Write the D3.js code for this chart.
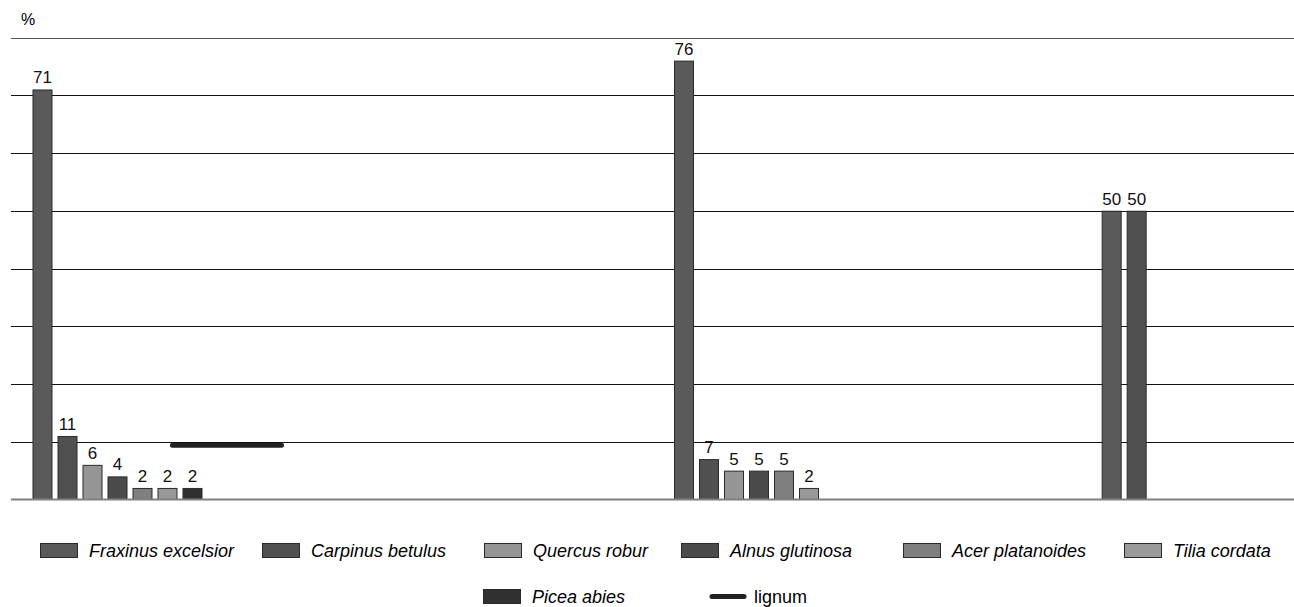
<!DOCTYPE html>
<html>
<head>
<meta charset="utf-8">
<script src="https://cdn.jsdelivr.net/npm/d3@7"></script>
<style>
  html, body { margin: 0; padding: 0; background: #fff; }
  svg { display: block; font-family: Arial, "Liberation Sans", sans-serif; }
</style>
</head>
<body>
<svg id="chart" width="1294" height="607"></svg>
<script>
// ----- data -----
const categories = ["1", "2", "3", "4", "5", "6"];
const species = ["Fraxinus excelsior", "Carpinus betulus", "Quercus robur", "Alnus glutinosa",
                 "Acer platanoides", "Tilia cordata", "Picea abies"];
const fraxinus  = [71, null, null, 76, null, 50];
const carpinus  = [11, null, null, 7,  null, 50];
const quercus   = [6,  null, null, 5,  null, null];
const alnus     = [4,  null, null, 5,  null, null];
const acer      = [2,  null, null, 5,  null, null];
const tilia     = [2,  null, null, 2,  null, null];
const picea     = [2,  null, null, null, null, null];
const lignum    = [9.4, null, null, null, null, null];
const yTicks    = [0, 10, 20, 30, 40, 50, 60, 70, 80];

const seriesValues = [fraxinus, carpinus, quercus, alnus, acer, tilia, picea];
const colors = ["#5a5a5a", "#505050", "#959595", "#4b4b4b", "#7f7f7f", "#9a9a9a", "#303030"];

// ----- layout -----
const svg = d3.select("#chart");
const plotLeft = 11, plotRight = 1294, plotTop = 37.5, plotBottom = 499.5;

const x = d3.scaleBand().domain(categories).range([plotLeft, plotRight]).padding(0);
const xInner = d3.scaleBand().domain(species).range([21.5, 191.5]).paddingInner(0.2).paddingOuter(0);
const y = d3.scaleLinear().domain([0, 80]).range([plotBottom, plotTop]);

// gridlines
svg.append("g").selectAll("line")
    .data(yTicks.filter(d => d > 0))
    .join("line")
    .attr("x1", plotLeft).attr("x2", plotRight)
    .attr("y1", d => Math.round(y(d)) + 0.5).attr("y2", d => Math.round(y(d)) + 0.5)
    .attr("stroke", d => d === 80 ? "#555" : "#111")
    .attr("stroke-width", 1);

svg.append("text")
    .attr("x", 21).attr("y", 25)
    .attr("font-size", 16)
    .text("%");

// bars
const barData = [];
seriesValues.forEach((vals, si) => {
  vals.forEach((v, ci) => {
    if (v != null) barData.push({ s: species[si], c: categories[ci], v, color: colors[si] });
  });
});

const gBars = svg.append("g");
gBars.selectAll("rect")
    .data(barData)
    .join("rect")
    .attr("x", d => x(d.c) + xInner(d.s) + 0.5)
    .attr("y", d => y(d.v) + 0.5)
    .attr("width", xInner.bandwidth() - 1)
    .attr("height", d => y(0) - y(d.v) - 0.5)
    .attr("fill", d => d.color)
    .attr("stroke", "#2a2a2a")
    .attr("stroke-width", 1);

gBars.selectAll("text")
    .data(barData)
    .join("text")
    .attr("x", d => x(d.c) + xInner(d.s) + xInner.bandwidth() / 2)
    .attr("y", d => y(d.v) - 6)
    .attr("text-anchor", "middle")
    .attr("font-size", 17)
    .attr("fill", "#111")
    .text(d => d.v);

// baseline
svg.append("line")
    .attr("x1", plotLeft).attr("x2", plotRight)
    .attr("y1", y(0)).attr("y2", y(0))
    .attr("stroke", "#808080")
    .attr("stroke-width", 2);

// lignum segment (spans the boundary between the first two categories)
lignum.forEach((v, i) => {
  if (v == null) return;
  svg.append("line")
      .attr("x1", x(categories[i]) + x.bandwidth() * 0.755)
      .attr("x2", x(categories[i + 1]) + x.bandwidth() * 0.265)
      .attr("y1", y(v)).attr("y2", y(v))
      .attr("stroke", "#222")
      .attr("stroke-width", 5)
      .attr("stroke-linecap", "round");
});

// legend
const legendPos = [[40, 543], [262, 543], [484, 543], [681, 543], [903, 543], [1124, 543], [483, 589]];
const gLegend = svg.append("g");
species.forEach((s, i) => {
  const [lx, ly] = legendPos[i];
  gLegend.append("rect")
      .attr("x", lx + 0.5).attr("y", ly + 0.5)
      .attr("width", 37).attr("height", 14)
      .attr("fill", colors[i])
      .attr("stroke", "#2a2a2a");
  gLegend.append("text")
      .attr("x", lx + 49).attr("y", ly + 14)
      .attr("font-size", 18)
      .attr("font-style", "italic")
      .text(s);
});
gLegend.append("line")
    .attr("x1", 712).attr("x2", 744)
    .attr("y1", 596.5).attr("y2", 596.5)
    .attr("stroke", "#222")
    .attr("stroke-width", 5)
    .attr("stroke-linecap", "round");
gLegend.append("text")
    .attr("x", 754).attr("y", 603)
    .attr("font-size", 18)
    .text("lignum");
</script>
</body>
</html>
